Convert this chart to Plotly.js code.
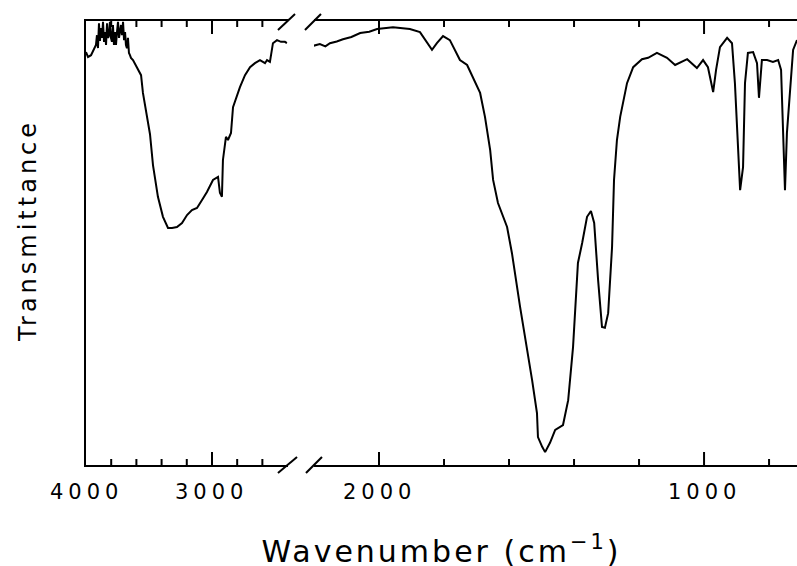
<!DOCTYPE html>
<html>
<head>
<meta charset="utf-8">
<script src="https://cdn.plot.ly/plotly-3.0.1.min.js"></script>
<style>
  html, body { margin: 0; padding: 0; background: #fff; }
  #plot { width: 797px; height: 566px; }
  #plot g.annotation text { letter-spacing: 5px; }
  #plot g.annotation[data-index="0"] text { letter-spacing: 3px; }
  #plot g.annotation[data-index="1"] text { letter-spacing: 4px; }
</style>
</head>
<body>
<div id="plot"></div>
<script>
// Left segment of the broken axis (4000 - 2400 cm-1)
const wnHigh = [4000, 3984, 3960, 3937, 3921, 3913, 3905, 3897, 3889, 3881, 3873, 3865, 3857, 3849, 3841,
  3833, 3825, 3817, 3810, 3802, 3794, 3786, 3778, 3770, 3762, 3754, 3746, 3738, 3730, 3722, 3714, 3706,
  3698, 3690, 3683, 3675, 3667, 3659, 3651, 3643, 3627, 3619, 3595, 3579, 3563, 3548, 3532, 3516, 3492,
  3468, 3429, 3389, 3349, 3317, 3278, 3238, 3198, 3159, 3119, 3079, 3040, 2992, 2952, 2937, 2921, 2913,
  2889, 2873, 2849, 2833, 2778, 2738, 2698, 2659, 2619, 2579, 2563, 2540, 2516, 2484, 2452, 2421, 2405];
const tHigh = [93.0, 91.9, 92.3, 93.5, 94.6, 96.8, 93.9, 99.5, 95.5, 98.4, 96.2, 99.8, 95.3, 97.5, 94.6,
  99.5, 96.2, 96.8, 99.8, 96.2, 95.3, 99.1, 94.6, 97.5, 94.6, 97.5, 99.8, 96.2, 98.4, 99.1, 96.8, 99.8,
  95.7, 97.5, 94.6, 93.9, 96.2, 92.8, 92.3, 91.7, 91.2, 90.8, 89.4, 88.5, 87.8, 83.8, 81.0, 78.4, 74.5,
  67.5, 60.4, 55.9, 53.4, 53.4, 53.6, 54.5, 56.3, 57.4, 57.9, 59.7, 61.5, 64.2, 64.9, 61.3, 60.4, 68.7,
  73.9, 73.2, 74.8, 80.6, 85.1, 87.8, 89.6, 90.5, 91.2, 90.5, 91.2, 90.8, 95.0, 95.7, 95.3, 95.3, 95.0];

// Right segment of the broken axis (2200 - ~714 cm-1)
const wnLow = [2203, 2182, 2165, 2151, 2130, 2111, 2085, 2058, 2030, 2006, 1957, 1905, 1874, 1852, 1837,
  1822, 1803, 1782, 1751, 1729, 1711, 1689, 1674, 1658, 1649, 1634, 1606, 1591, 1566, 1545, 1529, 1514,
  1511, 1498, 1489, 1474, 1458, 1434, 1418, 1403, 1388, 1375, 1360, 1348, 1338, 1326, 1314, 1305, 1295,
  1283, 1277, 1268, 1258, 1237, 1218, 1191, 1172, 1145, 1114, 1089, 1052, 1022, 1003, 988, 972, 963, 951,
  929, 914, 905, 895, 889, 880, 874, 865, 849, 837, 831, 822, 806, 788, 772, 763, 757, 751, 745, 735, 726, 714];
const tLow = [94.4, 94.8, 94.3, 95.0, 95.4, 95.9, 96.4, 97.3, 97.6, 98.2, 98.6, 98.2, 97.5, 95.0, 93.5,
  95.0, 96.6, 95.7, 91.2, 90.1, 87.4, 83.8, 78.4, 70.9, 64.2, 59.0, 53.6, 47.7, 35.6, 26.6, 19.1, 11.7,
  6.3, 4.1, 2.9, 5.0, 7.9, 9.0, 14.6, 26.6, 45.5, 50.0, 55.9, 57.2, 54.5, 41.7, 31.1, 30.9, 34.2,
  49.1, 64.2, 73.2, 78.4, 86.0, 89.6, 91.4, 91.7, 92.8, 91.7, 90.1, 91.4, 89.4, 91.2, 89.6, 84.0, 89.0, 94.1,
  96.2, 95.0, 86.0, 70.9, 61.9, 67.1, 86.0, 92.8, 93.0, 90.5, 82.7, 91.2, 91.2, 90.8, 91.2, 89.0, 74.8, 61.9, 74.8, 86.0, 93.5, 95.7];

// Axis ranges, tick positions and tick labels (cm-1)
const rangeHigh = [4000, 2400];
const rangeLow = [2200, 714];
const majorTicksHigh = [3000];
const minorTicksHigh = [3800, 3600, 3400, 3200, 2800, 2600];
const majorTicksLow = [2000, 1000];
const minorTicksLow = [1800, 1600, 1400, 1200, 800];
const labelValsHigh = [4000, 3000];
const labelTextHigh = ['4000', '3000'];
const labelValsLow = [2000, 1000];
const labelTextLow = ['2000', '1000'];

const plotHeightPx = 444;
const black = '#000';

const lineStyle = { color: black, width: 2 };
const data = [
  { x: wnHigh, y: tHigh, xaxis: 'x', yaxis: 'y', mode: 'lines', line: lineStyle, hoverinfo: 'skip', showlegend: false },
  { x: wnLow, y: tLow, xaxis: 'x2', yaxis: 'y', mode: 'lines', line: lineStyle, hoverinfo: 'skip', showlegend: false }
];

function xAxis(domain, range) {
  return {
    domain: domain, range: range, anchor: 'y',
    showline: true, linecolor: black, linewidth: 2, mirror: true,
    ticks: '', showticklabels: false, showgrid: false, zeroline: false
  };
}

// inward tick marks on bottom and top frame lines, x placed by the axis scale
function tickShapes(axisRef, vals, lenPx) {
  const f = lenPx / plotHeightPx;
  const out = [];
  vals.forEach(function (v) {
    out.push({ type: 'line', xref: axisRef, yref: 'paper', x0: v, x1: v, y0: 0, y1: f, line: { color: black, width: 2 } });
    out.push({ type: 'line', xref: axisRef, yref: 'paper', x0: v, x1: v, y0: 1, y1: 1 - f, line: { color: black, width: 2 } });
  });
  return out;
}

// tick labels under the bottom frame line, x placed by the axis scale
function tickLabels(axisRef, vals, texts) {
  return vals.map(function (v, i) {
    return { text: texts[i], xref: axisRef, yref: 'paper', x: v, y: 0, xanchor: 'center', yanchor: 'top',
      yshift: -13, showarrow: false, font: { family: 'DejaVu Sans, sans-serif', size: 21, color: black } };
  });
}

function sl(x0, y0, x1, y1) {
  return { type: 'line', xref: 'paper', yref: 'paper', x0: x0, y0: y0, x1: x1, y1: y1,
           line: { color: black, width: 2 } };
}

const shapes = [].concat(
  tickShapes('x', majorTicksHigh, 13), tickShapes('x', minorTicksHigh, 6),
  tickShapes('x2', majorTicksLow, 13), tickShapes('x2', minorTicksLow, 6),
  [sl(0.2700, -0.018, 0.2968, 0.018), sl(0.3094, -0.018, 0.3319, 0.018),
   sl(0.2700, 0.9797, 0.2940, 1.0158), sl(0.3080, 0.9797, 0.3305, 1.0158)]
);

const annotations = [
  { text: 'Wavenumber (cm<sup>−1</sup>)', xref: 'paper', yref: 'paper', x: 0.5, y: -0.19,
    xanchor: 'center', yanchor: 'middle', showarrow: false,
    font: { family: 'DejaVu Sans, sans-serif', size: 30, color: black } },
  { text: 'Transmittance', xref: 'paper', yref: 'paper', x: -0.0816, y: 0.529, textangle: -90,
    xanchor: 'center', yanchor: 'middle', showarrow: false,
    font: { family: 'DejaVu Sans, sans-serif', size: 24, color: black } }
].concat(tickLabels('x', labelValsHigh, labelTextHigh), tickLabels('x2', labelValsLow, labelTextLow));

const layout = {
  width: 797, height: 566,
  margin: { l: 86, r: 0, t: 21, b: 101 },
  paper_bgcolor: '#fff', plot_bgcolor: '#fff',
  showlegend: false,
  xaxis: xAxis([0, 0.2835], rangeHigh),
  xaxis2: xAxis([0.3207, 1], rangeLow),
  yaxis: { range: [0, 100], showline: true, linecolor: black, linewidth: 2, mirror: false,
    ticks: '', showticklabels: false, showgrid: false, zeroline: false, anchor: 'x' },
  shapes: shapes,
  annotations: annotations
};

Plotly.newPlot('plot', data, layout, { staticPlot: true, displayModeBar: false });
</script>
</body>
</html>
